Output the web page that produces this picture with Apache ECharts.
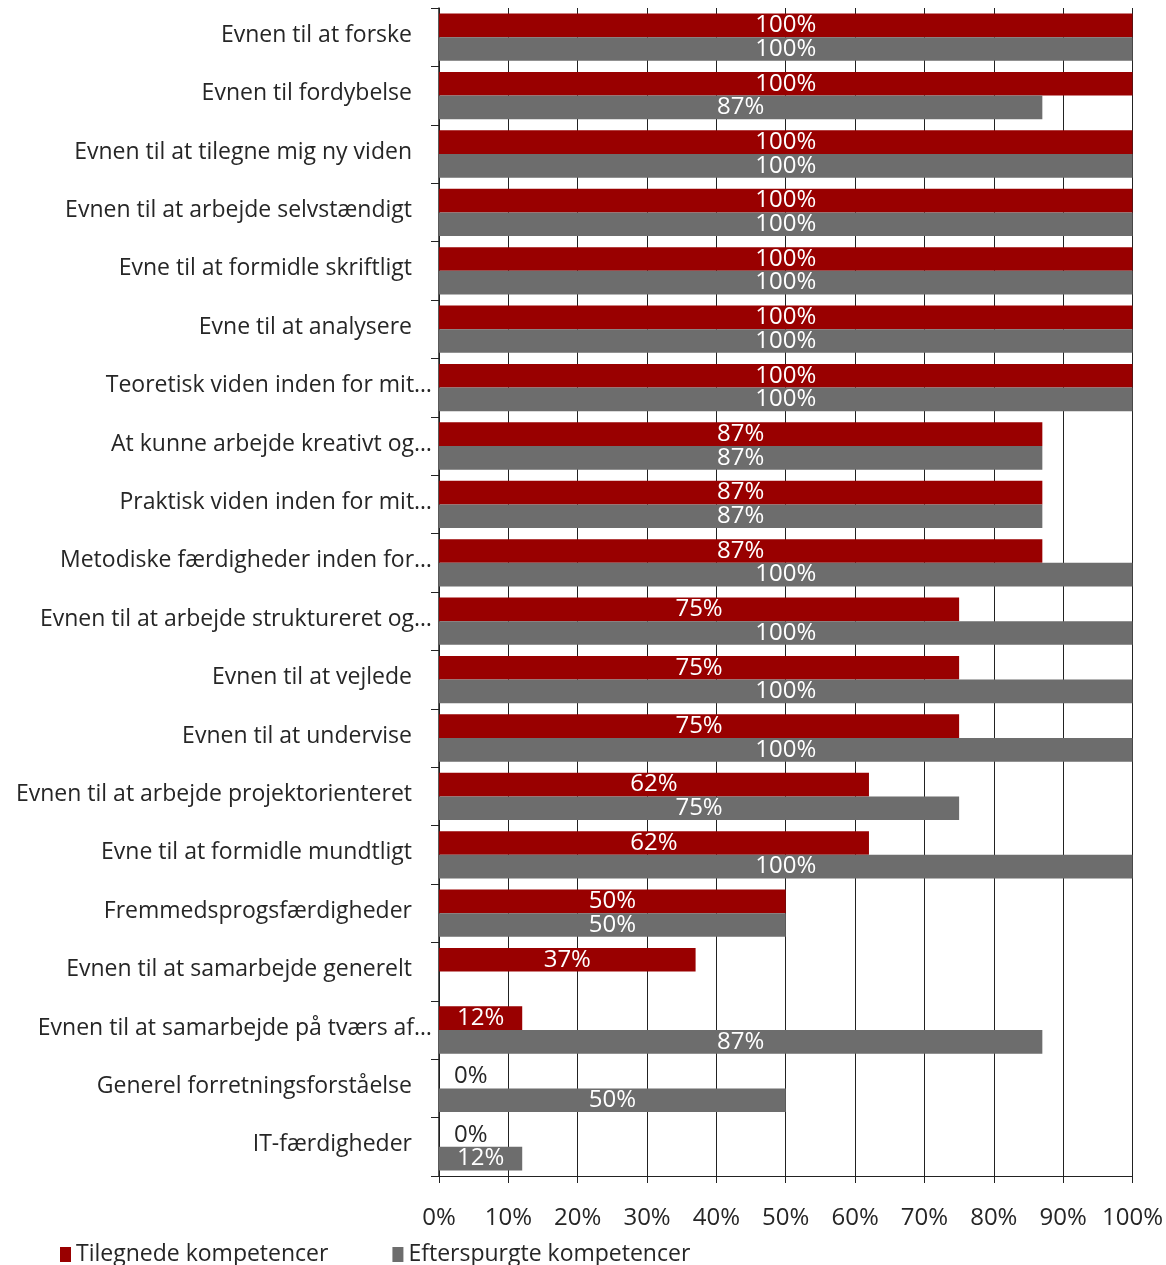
<!DOCTYPE html>
<html>
<head>
<meta charset="utf-8">
<script src="https://cdn.jsdelivr.net/npm/echarts@6/dist/echarts.min.js"></script>
<style>
  html, body { margin: 0; padding: 0; background: #fff; }
  #chart { width: 1166px; height: 1265px; }
</style>
</head>
<body>
<div id="chart"></div>
<script>
// Competence items, top to bottom
const categories = [
  'Evnen til at forske',
  'Evnen til fordybelse',
  'Evnen til at tilegne mig ny viden',
  'Evnen til at arbejde selvstændigt',
  'Evne til at formidle skriftligt',
  'Evne til at analysere',
  'Teoretisk viden inden for mit…',
  'At kunne arbejde kreativt og…',
  'Praktisk viden inden for mit…',
  'Metodiske færdigheder inden for…',
  'Evnen til at arbejde struktureret og…',
  'Evnen til at vejlede',
  'Evnen til at undervise',
  'Evnen til at arbejde projektorienteret',
  'Evne til at formidle mundtligt',
  'Fremmedsprogsfærdigheder',
  'Evnen til at samarbejde generelt',
  'Evnen til at samarbejde på tværs af…',
  'Generel forretningsforståelse',
  'IT-færdigheder'
];

// Share (%) of acquired competences
const tilegnede = [100, 100, 100, 100, 100, 100, 100, 87, 87, 87, 75, 75, 75, 62, 62, 50, 37, 12, 0, 0];
// Share (%) of requested competences (no value for "samarbejde generelt")
const efterspurgte = [100, 87, 100, 100, 100, 100, 100, 87, 87, 100, 100, 100, 100, 75, 100, 50, null, 87, 50, 12];

const xTicks = { min: 0, max: 100, interval: 10 };

const FONT = 'Open Sans';
const SIZE = 23;      // category and legend text
const NUM_SIZE = 24;  // percentages
const TEXT = '#262626';

// Zero values get a dark label placed just right of the axis
function toItems(values) {
  return values.map(v => {
    if (v === 0) {
      return { value: v, label: { position: 'right', distance: 15, color: TEXT } };
    }
    return v;
  });
}

const chart = echarts.init(document.getElementById('chart'));

const barLabel = {
  show: true,
  position: 'inside',
  color: '#ffffff',
  fontFamily: FONT,
  fontSize: NUM_SIZE,
  formatter: '{c}%'
};

chart.setOption({
  animation: false,
  textStyle: { fontFamily: FONT },
  grid: { left: 439, right: 33, top: 8, bottom: 89, containLabel: false },
  legend: {
    bottom: -6,
    left: 55,
    itemWidth: 11,
    itemHeight: 15,
    itemGap: 64,
    icon: 'rect',
    textStyle: { fontFamily: FONT, fontSize: SIZE, color: TEXT },
    data: ['Tilegnede kompetencer', 'Efterspurgte kompetencer']
  },
  xAxis: {
    type: 'value',
    min: xTicks.min,
    max: xTicks.max,
    interval: xTicks.interval,
    axisLine: { show: true, lineStyle: { color: '#222', width: 1 } },
    axisTick: { show: true, length: 7, lineStyle: { color: '#222' } },
    axisLabel: {
      formatter: '{value}%',
      margin: 30,
      fontFamily: FONT,
      fontSize: NUM_SIZE,
      color: TEXT
    },
    splitLine: { show: true, lineStyle: { color: '#222', width: 1 } }
  },
  yAxis: {
    type: 'category',
    inverse: true,
    data: categories,
    axisLine: { show: true, lineStyle: { color: '#222', width: 1.5 } },
    axisTick: { show: true, length: 8, lineStyle: { color: '#222' } },
    axisLabel: {
      margin: 7,
      fontFamily: FONT,
      fontSize: SIZE,
      color: TEXT,
      formatter: function (v) {
        return v.endsWith('…') ? '{t|' + v + '}' : '{n|' + v + '}';
      },
      rich: {
        n: { fontFamily: FONT, fontSize: SIZE, color: TEXT, padding: [0, 20, 4, 0] },
        t: { fontFamily: FONT, fontSize: SIZE, color: TEXT, padding: [0, 0, 4, 0] }
      }
    }
  },
  series: [
    {
      name: 'Tilegnede kompetencer',
      type: 'bar',
      data: toItems(tilegnede),
      itemStyle: { color: '#990000' },
      barGap: '0%',
      barCategoryGap: '19%',
      label: barLabel
    },
    {
      name: 'Efterspurgte kompetencer',
      type: 'bar',
      data: toItems(efterspurgte),
      itemStyle: { color: '#6d6d6d' },
      barGap: '0%',
      barCategoryGap: '19%',
      label: barLabel
    }
  ]
});
</script>
</body>
</html>
